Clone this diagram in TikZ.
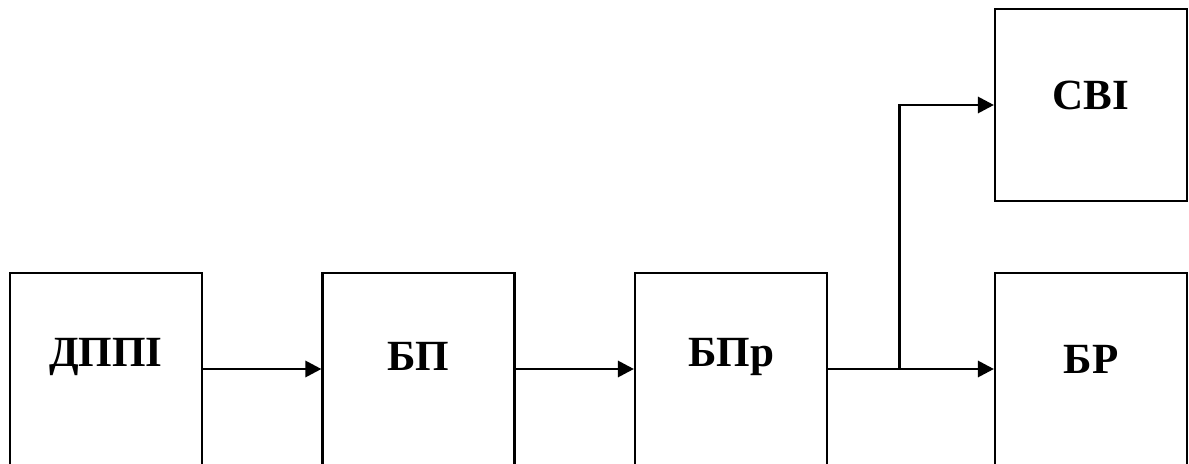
\documentclass[tikz,border=0pt]{standalone}
\usepackage{fontspec}
\setmainfont{Liberation Serif}
\usetikzlibrary{arrows.meta}

\tikzset{
  blok/.style={draw, line width=1.2pt, minimum width=3.84cm, minimum height=3.84cm, inner sep=0pt},
  nadpys/.style={font=\fontsize{24.5}{28}\selectfont\bfseries},
  strilka/.style={line width=1.7pt, -{Triangle[length=0.32cm, width=0.32cm]}}
}

\begin{document}
\begin{tikzpicture}
\useasboundingbox (0,0) rectangle (23.78,9.26);

\node[blok, label={[nadpys, yshift=0.25cm]center:ДППІ}] (dppi) at (2.12,1.88) {};
\node[blok, label={[nadpys, yshift=0.25cm]center:БП}] (bp) at (8.37,1.88) {};
\node[blok, label={[nadpys, yshift=0.25cm]center:БПр}] (bpr) at (14.62,1.88) {};
\node[blok, label={[nadpys, yshift=0.2cm]center:БР}] (br) at (21.82,1.88) {};
\node[blok, label={[nadpys, yshift=0.2cm]center:СВІ}] (svi) at (21.82,7.16) {};

\coordinate (V) at (17.98,1.88);

\draw[strilka] (dppi) -- (bp);
\draw[strilka] (bp) -- (bpr);
\draw[strilka] (bpr) -- (br);
\draw[strilka] (V) |- (svi);
\end{tikzpicture}
\end{document}
